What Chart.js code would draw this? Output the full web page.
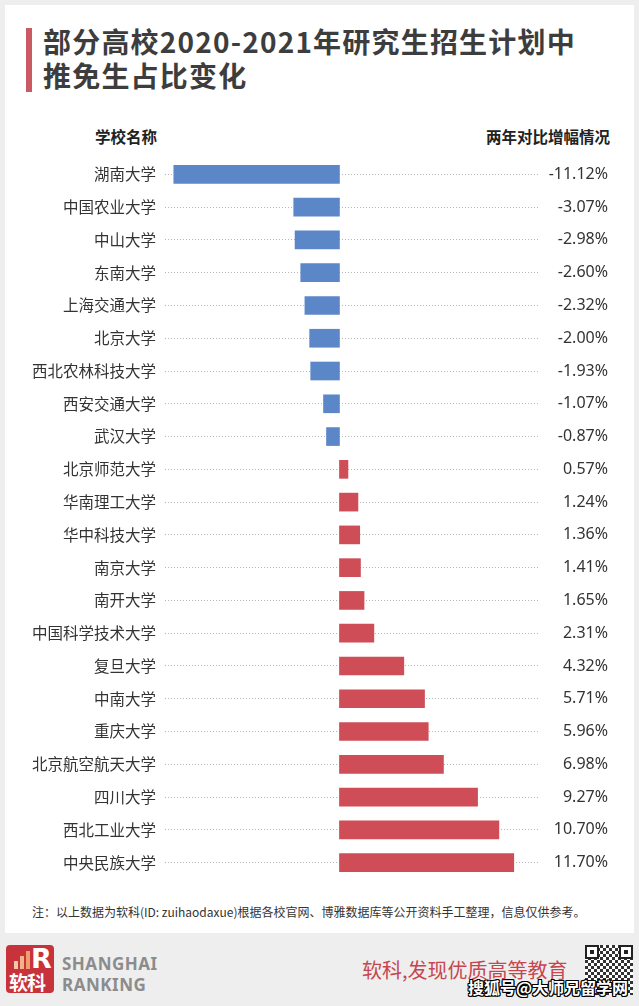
<!DOCTYPE html>
<html><head><meta charset="utf-8">
<script src="https://cdn.jsdelivr.net/npm/chart.js@4/dist/chart.umd.min.js"></script>
<style>
html,body{margin:0;padding:0;}
body{width:639px;height:1006px;background:#eeeeee;position:relative;overflow:hidden;font-family:"Noto Sans CJK SC","Noto Sans",sans-serif;}
#card{position:absolute;left:5px;top:5px;width:629px;height:928px;background:#fff;}
#redbar{position:absolute;left:26px;top:28px;width:6px;height:64px;background:#c95a63;}
.title{position:absolute;left:43px;font-size:28px;font-weight:bold;color:#3d3d3d;letter-spacing:1.2px;line-height:33px;white-space:nowrap;}
.hdr{position:absolute;top:124px;font-size:15.5px;font-weight:bold;color:#222;white-space:nowrap;line-height:24px;}
#note{position:absolute;left:32px;top:902px;font-size:12px;color:#333;white-space:nowrap;line-height:20px;}
#chartbox{position:absolute;left:0;top:158px;width:639px;height:721px;}
#logo{position:absolute;left:6px;top:945px;width:48px;height:48px;background:#c8323a;border-radius:4px;overflow:hidden;}
.lb{position:absolute;bottom:24px;width:4px;}
#sh{position:absolute;left:62px;top:953px;font-size:17px;font-weight:bold;color:#8c8c8c;letter-spacing:0.5px;line-height:21px;font-family:"Noto Sans","DejaVu Sans",sans-serif;}
#slogan{position:absolute;left:362px;top:957px;font-size:20px;color:#c6464f;white-space:nowrap;line-height:26px;}
#qr{position:absolute;left:585px;top:945px;width:48px;height:50px;background:
 repeating-conic-gradient(#333 0 25%, #fff 0 50%) 0 0/6px 6px;}
.fp{position:absolute;width:10px;height:10px;border:2px solid #222;background:#fff;}
.fp::after{content:"";position:absolute;left:3px;top:3px;width:4px;height:4px;background:#222;}
#wm{position:absolute;left:468px;top:977px;font-size:16px;font-weight:bold;color:#fff;white-space:nowrap;line-height:20px;
 text-shadow:-1px -1px 0 #000,1px -1px 0 #000,-1px 1px 0 #000,1px 1px 0 #000,0 1px 0 #000,0 -1px 0 #000,1px 0 0 #000,-1px 0 0 #000;}
</style></head>
<body>
<div id="card"></div>
<div id="redbar"></div>
<div class="title" style="top:25px">部分高校2020-2021年研究生招生计划中</div>
<div class="title" style="top:59px">推免生占比变化</div>
<div class="hdr" style="left:95px">学校名称</div>
<div class="hdr" style="right:29px">两年对比增幅情况</div>
<div id="chartbox"><canvas id="c" width="639" height="721"></canvas></div>
<div id="note">注：以上数据为软科(ID: zuihaodaxue)根据各校官网、博雅数据库等公开资料手工整理，信息仅供参考。</div>
<div id="logo">
  <div class="lb" style="left:8px;height:8px;background:#f3c9a8"></div>
  <div class="lb" style="left:14px;height:13px;background:#f0b488"></div>
  <div class="lb" style="left:20px;height:18px;background:#ee9e6c"></div>
  <div style="position:absolute;left:25px;top:0px;font-size:27px;font-weight:bold;color:#fff;font-family:'DejaVu Sans',sans-serif;line-height:28px">R</div>
  <div style="position:absolute;left:3px;top:27px;font-size:19px;font-weight:bold;color:#fff;line-height:20px;letter-spacing:-1px">软科</div>
</div>
<div id="sh">SHANGHAI<br>RANKING</div>
<div id="slogan">软科,发现优质高等教育</div>
<div id="qr">
  <div class="fp" style="left:0;top:0"></div>
  <div class="fp" style="right:0;top:0"></div>
  <div class="fp" style="left:0;bottom:0"></div>
</div>
<div id="wm">搜狐号@大师兄留学网</div>
<script>
const schools = ["湖南大学","中国农业大学","中山大学","东南大学","上海交通大学","北京大学","西北农林科技大学","西安交通大学","武汉大学","北京师范大学","华南理工大学","华中科技大学","南京大学","南开大学","中国科学技术大学","复旦大学","中南大学","重庆大学","北京航空航天大学","四川大学","西北工业大学","中央民族大学"];
const changes = [-11.12,-3.07,-2.98,-2.60,-2.32,-2.00,-1.93,-1.07,-0.87,0.57,1.24,1.36,1.41,1.65,2.31,4.32,5.71,5.96,6.98,9.27,10.70,11.70];
const changeLabels = ["-11.12%","-3.07%","-2.98%","-2.60%","-2.32%","-2.00%","-1.93%","-1.07%","-0.87%","0.57%","1.24%","1.36%","1.41%","1.65%","2.31%","4.32%","5.71%","5.96%","6.98%","9.27%","10.70%","11.70%"];

const colors = changes.map(v => v < 0 ? '#5b87c8' : '#cf4d57');

function fixV(w) {
  return s => { s.width = w; s.paddingTop = 0; s.paddingBottom = 0; };
}

new Chart(document.getElementById('c'), {
  type: 'bar',
  data: {
    labels: schools,
    datasets: [{
      data: changes,
      backgroundColor: colors,
      borderWidth: 0,
      barThickness: 18,
      xAxisID: 'x',
      yAxisID: 'y'
    }]
  },
  options: {
    indexAxis: 'y',
    responsive: false,
    animation: false,
    layout: { padding: { left: 0, right: 31, top: 0, bottom: 0 } },
    plugins: { legend: { display: false }, tooltip: { enabled: false } },
    scales: {
      x: {
        display: false,
        min: -11.71,
        max: 13.46
      },
      y: {
        type: 'category',
        position: 'left',
        offset: true,
        afterFit: fixV(165),
        grid: { offset: false, drawTicks: false, color: '#b5b5b5', lineWidth: 1 },
        border: { display: false, dash: [1, 2] },
        ticks: {
          padding: 9,
          color: '#333',
          font: { family: '"Noto Sans CJK SC"', size: 15.5 },
          autoSkip: false
        }
      },
      y2: {
        type: 'category',
        position: 'right',
        labels: changeLabels,
        offset: true,
        afterFit: fixV(68),
        grid: { display: false, drawTicks: false },
        border: { display: false },
        ticks: {
          crossAlign: 'far',
          color: '#333',
          font: { family: '"Noto Sans", "Noto Sans CJK SC"', size: 16 },
          autoSkip: false
        }
      }
    }
  }
});
</script>
</body></html>
